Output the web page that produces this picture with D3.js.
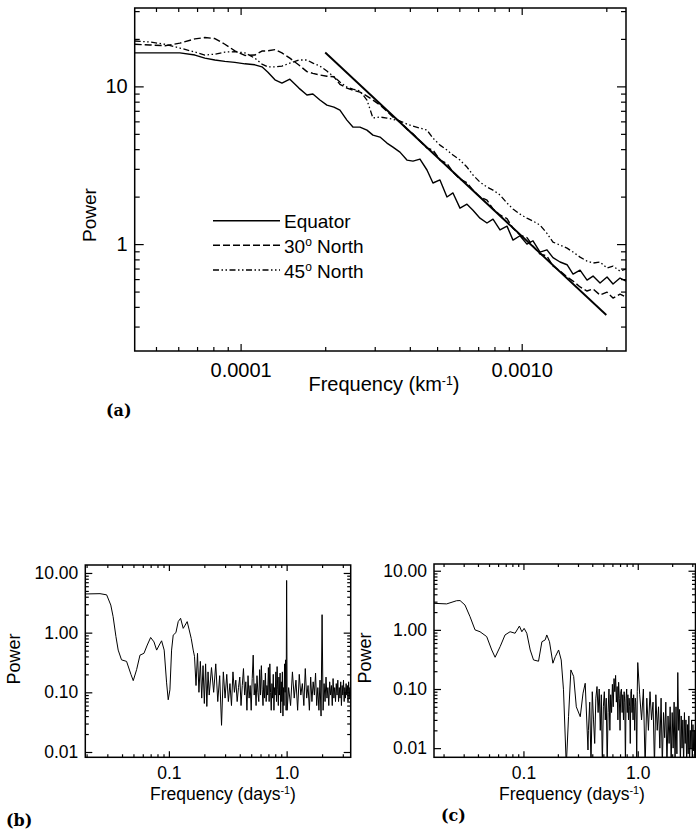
<!DOCTYPE html>
<html>
<head>
<meta charset="utf-8">
<script src="https://cdn.jsdelivr.net/npm/d3@7"></script>
<style>
  body { margin: 0; background: #fff; }
  svg { display: block; }
</style>
</head>
<body>
<svg id="chart" width="696" height="832"></svg>
<script>
// ---------- panel (a): power vs spatial frequency ----------
var freqA = [4.2e-5, 4.76e-5, 5.38e-5, 6.08e-5, 6.88e-5, 7.46e-5, 8.10e-5, 8.79e-5, 9.54e-5, 1.036e-4,
  1.124e-4, 1.191e-4, 1.251e-4, 1.325e-4, 1.403e-4, 1.497e-4, 1.612e-4, 1.722e-4, 1.808e-4, 1.915e-4,
  2.028e-4, 2.148e-4, 2.256e-4, 2.389e-4, 2.509e-4, 2.658e-4, 2.815e-4, 2.957e-4, 3.132e-4, 3.316e-4,
  3.483e-4, 3.689e-4, 3.906e-4, 4.104e-4, 4.346e-4, 4.603e-4, 4.834e-4, 5.120e-4, 5.422e-4, 5.695e-4,
  6.032e-4, 6.387e-4, 6.710e-4, 7.106e-4, 7.525e-4, 7.905e-4, 8.371e-4, 8.866e-4, 9.312e-4, 9.861e-4,
  1.044e-3, 1.097e-3, 1.162e-3, 1.230e-3, 1.292e-3, 1.369e-3, 1.450e-3, 1.523e-3, 1.613e-3, 1.708e-3,
  1.794e-3, 1.900e-3, 2.012e-3, 2.113e-3, 2.238e-3, 2.351e-3];
var equator = [16.3, 16.3, 16.3, 16.3, 15.8, 15.1, 14.7, 14.4, 14.2, 13.9,
  13.7, 13.3, 12.3, 11.0, 10.5, 11.1, 9.75, 8.81, 8.94, 8.19,
  7.61, 7.39, 7.07, 6.11, 5.52, 5.52, 5.28, 4.91, 4.77, 4.37,
  4.12, 3.83, 3.41, 3.36, 3.46, 2.95, 2.44, 2.55, 1.99, 2.11,
  1.69, 1.79, 1.64, 1.46, 1.36, 1.44, 1.23, 1.30, 1.06, 1.13,
  1.00, 1.05, 0.89, 0.92, 0.82, 0.77, 0.74, 0.645, 0.684, 0.591,
  0.627, 0.566, 0.618, 0.558, 0.609, 0.583];
var north30 = [18.5, 18.3, 18.1, 18.8, 20.0, 20.4, 20.1, 18.5, 16.8, 15.7,
  15.8, 16.75, 16.8, 17.1, 16.3, 15.1, 13.65, 12.4, 12.1, 11.8,
  11.6, 11.5, 10.3, 9.75, 9.47, 9.20, 8.68, 8.19, 7.61, 6.97,
  6.39, 6.0, 5.36, 5.0, 4.50, 4.06, 3.95, 3.41, 3.25, 2.86,
  2.58, 2.45, 2.20, 1.99, 1.90, 1.67, 1.53, 1.45, 1.26, 1.14,
  1.10, 0.971, 0.865, 0.84, 0.726, 0.675, 0.619, 0.583, 0.535, 0.504,
  0.519, 0.475, 0.496, 0.455, 0.482, 0.461];
var north45 = [19.4, 19.1, 18.5, 17.5, 16.5, 15.8, 16.0, 16.5, 16.6, 16.3,
  15.1, 13.85, 13.3, 13.3, 13.45, 14.05, 14.7, 14.7, 14.05, 13.45,
  12.5, 11.5, 10.65, 9.90, 9.61, 9.34, 8.19, 6.30, 6.39, 6.30,
  6.18, 6.03, 5.77, 5.60, 5.44, 5.28, 4.70, 4.24, 3.95, 3.67,
  3.41, 3.08, 2.74, 2.47, 2.30, 2.20, 2.05, 1.82, 1.67, 1.55,
  1.46, 1.40, 1.32, 1.17, 1.03, 0.986, 0.943, 0.890, 0.827, 0.780,
  0.758, 0.77, 0.704, 0.725, 0.674, 0.694];
// -5/3 reference line
var slopeFreq = [2e-4, 2e-3];
var slopePower = [16.4, 0.355];

var legendNames = ["Equator", "30° North", "45° North"];
var xTicksA = [1e-4, 1e-3], xLabelsA = ["0.0001", "0.0010"];
var xMinorA = [5e-5, 6e-5, 7e-5, 8e-5, 9e-5, 2e-4, 3e-4, 4e-4, 5e-4, 6e-4, 7e-4, 8e-4, 9e-4, 2e-3];
var yTicksA = [1, 10], yLabelsA = ["1", "10"];
var yMinorA = [0.3, 0.4, 0.5, 0.6, 0.7, 0.8, 0.9, 2, 3, 4, 5, 6, 7, 8, 9, 20, 30];

// ---------- panels (b) and (c): power vs temporal frequency ----------
var freqMid = [0.31, 0.32, 0.33, 0.34, 0.35, 0.36, 0.37, 0.38, 0.39, 0.40,
  0.41, 0.42, 0.43, 0.44, 0.45, 0.46, 0.47, 0.48, 0.49, 0.50,
  0.51, 0.52, 0.53, 0.54, 0.55, 0.56, 0.57, 0.58, 0.59, 0.60,
  0.61, 0.62, 0.63, 0.64, 0.65, 0.66, 0.67, 0.68, 0.69, 0.70,
  0.71, 0.72, 0.73, 0.74, 0.75, 0.76, 0.77, 0.78, 0.79, 0.80,
  0.81, 0.82, 0.83, 0.84, 0.85, 0.86, 0.87, 0.88, 0.89, 0.90,
  0.91, 0.92, 0.93, 0.94, 0.95, 0.96, 0.97, 0.98, 0.99, 1.00];
var freqHigh = [1.04, 1.08, 1.12, 1.16, 1.20, 1.24, 1.28, 1.32, 1.36, 1.40,
  1.44, 1.48, 1.52, 1.56, 1.60, 1.64, 1.68, 1.72, 1.76, 1.80,
  1.84, 1.88, 1.92, 1.96, 2.00, 2.04, 2.08, 2.12, 2.16, 2.20,
  2.24, 2.28, 2.32, 2.36, 2.40, 2.44, 2.48, 2.52, 2.56, 2.60,
  2.64, 2.68, 2.72, 2.76, 2.80, 2.84, 2.88, 2.92, 2.96, 3.00,
  3.04, 3.08, 3.12, 3.16, 3.20, 3.24, 3.28, 3.32, 3.36, 3.40,
  3.44, 3.48];

var freqB = [0.0195, 0.026, 0.0296, 0.0321, 0.0336, 0.0355, 0.0371, 0.0396, 0.0437, 0.0476,
  0.0498, 0.0532, 0.0568, 0.0614, 0.0655, 0.070, 0.0747, 0.0787, 0.0828, 0.0867,
  0.0912, 0.0956, 0.0987, 0.102, 0.1054, 0.1088, 0.1147, 0.120, 0.1257, 0.1323,
  0.1375, 0.143, 0.1488, 0.1547, 0.1609,
  0.165, 0.17, 0.175, 0.18, 0.185, 0.19, 0.195, 0.20, 0.205, 0.21,
  0.215, 0.22, 0.23, 0.24, 0.25, 0.26, 0.27, 0.28, 0.29, 0.30]
  .concat(freqMid, [1.01], freqHigh);
var powerB = [4.45, 4.5, 4.3, 2.9, 1.85, 0.86, 0.51, 0.35, 0.33, 0.20,
  0.157, 0.24, 0.42, 0.45, 0.62, 0.83, 0.70, 0.51, 0.62, 0.73,
  0.51, 0.144, 0.075, 0.11, 0.51, 0.91, 1.0, 1.53, 1.74, 1.18,
  1.34, 1.53, 1.11, 0.80, 0.51,
  0.40, 0.13, 0.45, 0.10, 0.33, 0.08, 0.28, 0.065, 0.30, 0.058,
  0.22, 0.09, 0.26, 0.10, 0.30, 0.07, 0.19, 0.028, 0.22, 0.08,
  // 0.31 - 1.00
  0.20, 0.07, 0.14, 0.06, 0.22, 0.10, 0.16, 0.07, 0.12, 0.18,
  0.06, 0.13, 0.25, 0.09, 0.15, 0.05, 0.19, 0.08, 0.13, 0.05,
  0.17, 0.42, 0.09, 0.14, 0.06, 0.19, 0.10, 0.07, 0.24, 0.09,
  0.28, 0.11, 0.06, 0.16, 0.08, 0.21, 0.07, 0.13, 0.09, 0.26,
  0.07, 0.30, 0.10, 0.05, 0.14, 0.08, 0.20, 0.05, 0.12, 0.09,
  0.22, 0.07, 0.27, 0.11, 0.06, 0.18, 0.09, 0.21, 0.045, 0.15,
  0.07, 0.22, 0.04, 0.12, 0.06, 0.30, 0.10, 0.35, 0.05, 7.5,
  // 1.01
  0.05,
  // 1.04 - 3.48
  0.12, 0.06, 0.22, 0.08, 0.16, 0.05, 0.20, 0.09, 0.14, 0.06,
  0.25, 0.08, 0.13, 0.05, 0.18, 0.07, 0.15, 0.09, 0.21, 0.06,
  0.12, 0.05, 0.16, 0.04, 2.0, 0.05, 0.14, 0.07, 0.18, 0.08,
  0.12, 0.06, 0.15, 0.09, 0.13, 0.06, 0.17, 0.08, 0.12, 0.07,
  0.14, 0.09, 0.16, 0.07, 0.12, 0.08, 0.15, 0.06, 0.13, 0.09,
  0.16, 0.07, 0.12, 0.08, 0.14, 0.09, 0.13, 0.07, 0.15, 0.08,
  0.12, 0.10];

var freqC = [0.0165, 0.0213, 0.026, 0.0279, 0.0308, 0.0341, 0.0377, 0.0417, 0.0477, 0.0528,
  0.0565, 0.0625, 0.069, 0.0764, 0.0845, 0.0922, 0.0968, 0.1014, 0.107, 0.1146,
  0.1225, 0.1355, 0.145, 0.155, 0.160, 0.169, 0.181, 0.19, 0.203, 0.214,
  0.224, 0.237, 0.248, 0.26, 0.275, 0.29, 0.314, 0.332, 0.347, 0.367]
  .concat(freqMid.slice(6), freqHigh);
var powerC = [2.81, 2.75, 3.11, 3.13, 2.63, 1.67, 1.0, 0.93, 0.77, 0.457,
  0.344, 0.52, 0.82, 0.93, 0.877, 1.16, 0.93, 1.06, 0.877, 0.457,
  0.31, 0.295, 0.63, 0.677, 0.82, 0.63, 0.273, 0.352, 0.457, 0.31,
  0.097, 0.005, 0.034, 0.21, 0.163, 0.05, 0.034, 0.085, 0.125, 0.0093,
  // 0.37 - 1.00
  0.02, 0.06, 0.005, 0.09, 0.03, 0.012, 0.07, 0.11, 0.04, 0.10,
  0.02, 0.08, 0.005, 0.05, 0.09, 0.03, 0.07, 0.005, 0.04, 0.10,
  0.02, 0.08, 0.04, 0.12, 0.05, 0.15, 0.09, 0.17, 0.06, 0.11,
  0.03, 0.13, 0.07, 0.02, 0.09, 0.10, 0.04, 0.08, 0.03, 0.09,
  0.06, 0.005, 0.07, 0.10, 0.04, 0.08, 0.03, 0.07, 0.05, 0.012,
  0.09, 0.10, 0.04, 0.07, 0.03, 0.08, 0.05, 0.02, 0.07, 0.06,
  0.03, 0.005, 0.09, 0.28,
  // 1.04 - 3.48
  0.08, 0.03, 0.10, 0.005, 0.07, 0.02, 0.09, 0.03, 0.06, 0.005,
  0.08, 0.02, 0.05, 0.01, 0.07, 0.005, 0.04, 0.015, 0.06, 0.005,
  0.035, 0.012, 0.05, 0.005, 0.04, 0.01, 0.06, 0.005, 0.05, 0.008,
  0.19, 0.02, 0.045, 0.005, 0.035, 0.01, 0.03, 0.005, 0.04, 0.012,
  0.03, 0.005, 0.025, 0.008, 0.035, 0.005, 0.02, 0.01, 0.03, 0.005,
  0.025, 0.009, 0.02, 0.005, 0.03, 0.01, 0.02, 0.005, 0.025, 0.008,
  0.02, 0.01];

var xTicksT = [0.1, 1], xLabelsT = ["0.1", "1.0"];
var xMinorT = [0.02, 0.03, 0.04, 0.05, 0.06, 0.07, 0.08, 0.09, 0.2, 0.3, 0.4, 0.5, 0.6, 0.7, 0.8, 0.9, 2, 3];
var yTicksT = [0.01, 0.1, 1, 10], yLabelsT = ["0.01", "0.10", "1.00", "10.00"];
var yMinorT = [0.02, 0.03, 0.04, 0.05, 0.06, 0.07, 0.08, 0.09, 0.2, 0.3, 0.4, 0.5, 0.6, 0.7, 0.8, 0.9,
  2, 3, 4, 5, 6, 7, 8, 9];

var FONT = "'Liberation Sans', Arial, Helvetica, sans-serif";
var SERIF = "'DejaVu Serif', 'Liberation Serif', serif";

var svg = d3.select("#chart");

// frame with inward ticks on all four sides
function drawAxes(g, x, y, o) {
  var xr = x.range(), yr = y.range();
  var inX = function (v) { var d = x.domain(); return v >= d[0] && v <= d[1]; };
  var inY = function (v) { var d = y.domain(); return v >= d[0] && v <= d[1]; };
  var sides = [
    { make: d3.axisBottom, s: x, at: "translate(0," + yr[0] + ")", t: o.xTicks, l: o.xLabels, m: o.xMinor.filter(inX), len: o.xLen, pad: o.xPad },
    { make: d3.axisTop, s: x, at: "translate(0," + yr[1] + ")", t: o.xTicks, l: null, m: o.xMinor.filter(inX), len: o.xLen, pad: 0 },
    { make: d3.axisLeft, s: y, at: "translate(" + xr[0] + ",0)", t: o.yTicks, l: o.yLabels, m: o.yMinor.filter(inY), len: o.yLen, pad: o.yPad },
    { make: d3.axisRight, s: y, at: "translate(" + xr[1] + ",0)", t: o.yTicks, l: null, m: o.yMinor.filter(inY), len: o.yLen, pad: 0 }
  ];
  sides.forEach(function (sd) {
    var major = g.append("g").attr("transform", sd.at)
      .call(sd.make(sd.s).tickValues(sd.t).tickSize(-sd.len[0]).tickSizeOuter(0).tickPadding(sd.pad)
        .tickFormat(function (d, i) { return sd.l ? sd.l[i] : ""; }));
    var minor = g.append("g").attr("transform", sd.at)
      .call(sd.make(sd.s).tickValues(sd.m).tickSize(-sd.len[1]).tickSizeOuter(0).tickFormat(""));
    [major, minor].forEach(function (a) {
      a.select(".domain").remove();
      a.attr("font-family", FONT).attr("font-size", o.fs);
      a.selectAll("line").attr("stroke", "#000").attr("stroke-width", 1.2);
      a.selectAll("text").attr("fill", "#000");
    });
  });
  g.append("rect")
    .attr("x", xr[0]).attr("y", yr[1])
    .attr("width", xr[1] - xr[0]).attr("height", yr[0] - yr[1])
    .attr("fill", "none").attr("stroke", "#000").attr("stroke-width", 1.5);
}

function clip(id, x, y) {
  var xr = x.range(), yr = y.range();
  svg.append("clipPath").attr("id", id).append("rect")
    .attr("x", xr[0]).attr("y", yr[1]).attr("width", xr[1] - xr[0]).attr("height", yr[0] - yr[1]);
  return "url(#" + id + ")";
}

function freqTitle(g, cx, by, fs, unit) {
  var t = g.append("text").attr("x", cx).attr("y", by).attr("text-anchor", "middle")
    .attr("font-family", FONT).attr("font-size", fs).attr("fill", "#000");
  t.append("tspan").text("Frequency (" + unit);
  t.append("tspan").attr("dy", -fs * 0.3).attr("font-size", fs * 0.62).text("-1");
  t.append("tspan").attr("dy", fs * 0.3).text(")");
}

function powerTitle(g, bx, cy, fs) {
  g.append("text").attr("transform", "translate(" + bx + "," + cy + ") rotate(-90)")
    .attr("text-anchor", "middle").attr("font-family", FONT).attr("font-size", fs)
    .attr("fill", "#000").text("Power");
}

function panelLabel(x, y, s) {
  svg.append("text").attr("x", x).attr("y", y).attr("font-family", SERIF)
    .attr("font-weight", "bold").attr("font-size", 16).attr("fill", "#000").text(s);
}

// ---------- panel (a) ----------
var xA = d3.scaleLog().domain([4.2e-5, 2.35e-3]).range([134.7, 626]);
var yA = d3.scaleLog().domain([0.21, 31.4]).range([351, 8]);
var gA = svg.append("g");
var lineA = d3.line().x(function (d) { return xA(d[0]); }).y(function (d) { return yA(d[1]); });
var clipA = clip("clipA", xA, yA);

var seriesA = [equator, north30, north45];
var dashA = [null, "7,3", "6,2.5,1.5,2.5,1.5,2.5"];
var widthA = [1.4, 1.4, 1.3];
seriesA.forEach(function (s, i) {
  gA.append("path").datum(d3.zip(freqA, s)).attr("d", lineA)
    .attr("clip-path", clipA).attr("fill", "none").attr("stroke", "#000")
    .attr("stroke-width", widthA[i]).attr("stroke-dasharray", dashA[i])
    .attr("stroke-linejoin", "round");
});
gA.append("path").datum(d3.zip(slopeFreq, slopePower)).attr("d", lineA)
  .attr("fill", "none").attr("stroke", "#000").attr("stroke-width", 1.9);

drawAxes(gA, xA, yA, {
  xTicks: xTicksA, xLabels: xLabelsA, xMinor: xMinorA, xLen: [7, 4], xPad: 12,
  yTicks: yTicksA, yLabels: yLabelsA, yMinor: yMinorA, yLen: [9, 5], yPad: 7, fs: 20
});
freqTitle(gA, 384, 391, 20, "km");
powerTitle(gA, 96, 215, 19);

// legend
var legY = [220.7, 245.3, 270];
legendNames.forEach(function (name, i) {
  gA.append("line").attr("x1", 213).attr("x2", 280).attr("y1", legY[i]).attr("y2", legY[i])
    .attr("stroke", "#000").attr("stroke-width", widthA[i]).attr("stroke-dasharray", dashA[i]);
  var t = gA.append("text").attr("x", 284).attr("y", legY[i] + 7.5)
    .attr("font-family", FONT).attr("font-size", 19).attr("fill", "#000");
  var parts = name.split("°");
  t.append("tspan").text(parts[0]);
  if (parts.length > 1) {
    t.append("tspan").attr("dy", -7).attr("font-size", 12).text("o");
    t.append("tspan").attr("dy", 7).text(parts[1]);
  }
});
panelLabel(106, 416, "(a)");

// ---------- panels (b), (c) ----------
function timePanel(id, x, y, freq, power, o) {
  var g = svg.append("g");
  var line = d3.line().x(function (d) { return x(d[0]); }).y(function (d) { return y(Math.max(d[1], 1e-4)); });
  g.append("path").datum(d3.zip(freq, power)).attr("d", line)
    .attr("clip-path", clip(id, x, y)).attr("fill", "none").attr("stroke", "#000")
    .attr("stroke-width", 1).attr("stroke-linejoin", "round");
  drawAxes(g, x, y, {
    xTicks: xTicksT, xLabels: xLabelsT, xMinor: xMinorT, xLen: [6, 3], xPad: 9,
    yTicks: yTicksT, yLabels: yLabelsT, yMinor: yMinorT, yLen: [7, 3.5], yPad: 7, fs: 17.5
  });
  freqTitle(g, o.titleX, o.titleY, 17.5, "days");
  powerTitle(g, o.powerX, o.powerY, 18);
}

var xB = d3.scaleLog().domain([0.0195, 3.5]).range([85.3, 350.7]);
var yB = d3.scaleLog().domain([0.00815, 13.6]).range([757.3, 565]);
timePanel("clipB", xB, yB, freqB, powerB, { titleX: 223, titleY: 799.5, powerX: 20, powerY: 659 });
panelLabel(6, 826, "(b)");

var xC = d3.scaleLog().domain([0.0165, 3.2]).range([434, 695.5]);
var yC = d3.scaleLog().domain([0.0070, 13]).range([757.3, 564]);
timePanel("clipC", xC, yC, freqC, powerC, { titleX: 572, titleY: 799.5, powerX: 371, powerY: 658 });
panelLabel(441, 821, "(c)");
</script>
</body>
</html>
